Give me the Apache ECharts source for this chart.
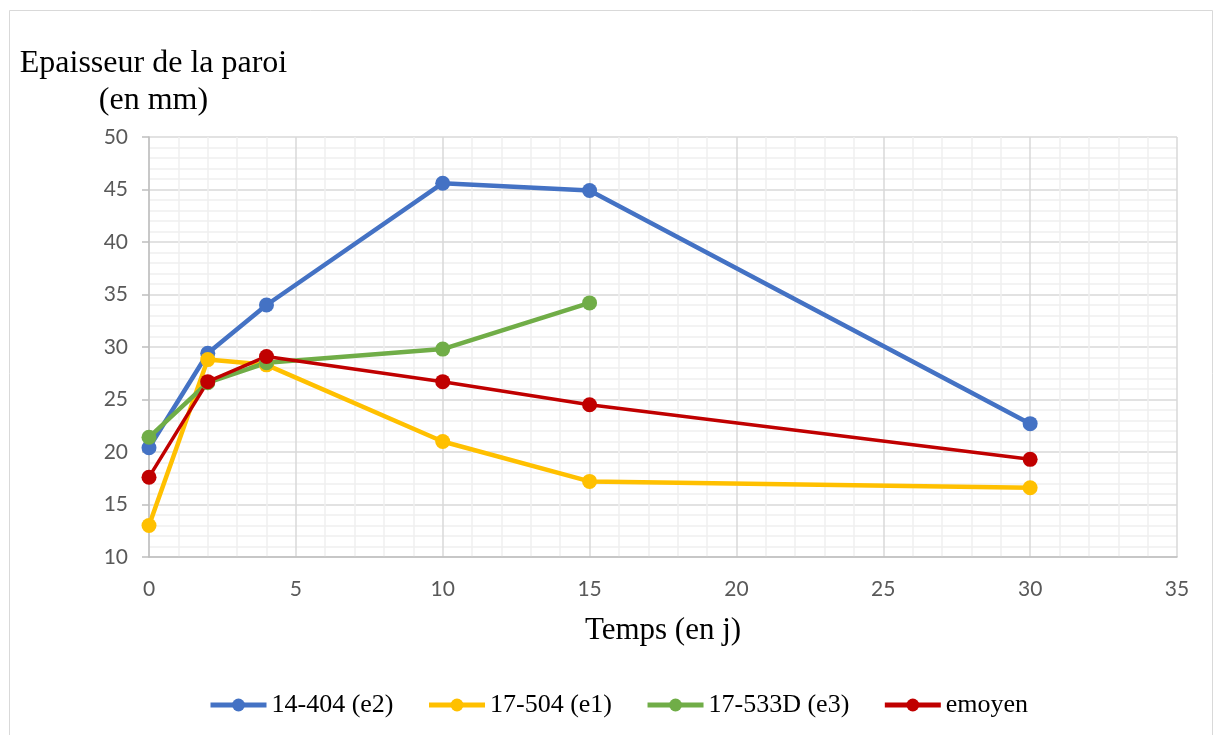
<!DOCTYPE html>
<html>
<head>
<meta charset="utf-8">
<script src="https://cdn.jsdelivr.net/npm/echarts@6/dist/echarts.min.js"></script>
<style>html,body{margin:0;padding:0;background:#fff}#c{width:1214px;height:735px}</style>
</head>
<body>
<div id="c"></div>
<script>
var days = [0, 2, 4, 10, 15, 30];
var seriesNames = ['14-404 (e2)', '17-504 (e1)', '17-533D (e3)', 'emoyen'];
var e2 = [20.4, 29.4, 34.0, 45.6, 44.9, 22.7];
var e1 = [13.0, 28.8, 28.3, 21.0, 17.2, 16.6];
var e3 = [21.4, 26.6, 28.5, 29.8, 34.2];
var emoyen = [17.6, 26.7, 29.1, 26.7, 24.5, 19.3];
var xTicks = [0, 5, 10, 15, 20, 25, 30, 35];
var yTicks = [10, 15, 20, 25, 30, 35, 40, 45, 50];

function pairs(vals) { return vals.map(function (v, i) { return [days[i], v]; }); }

var colors = ['#4472C4', '#FFC000', '#70AD47', '#C00000'];
var widths = [4.5, 4.5, 4.5, 3.5];
var allVals = [e2, e1, e3, emoyen];

var chart = echarts.init(document.getElementById('c'));
chart.setOption({
  animation: false,
  backgroundColor: '#fff',
  graphic: [{
    type: 'rect', silent: true, z: -10,
    shape: { x: 9.5, y: 10.5, width: 1203, height: 740 },
    style: { fill: 'none', stroke: '#d9d9d9', lineWidth: 1 }
  }],
  grid: { left: 149, right: 37, top: 137, bottom: 178 },
  legend: {
    left: 203, top: 687,
    itemWidth: 56, itemHeight: 16, itemGap: 33,
    lineStyle: { width: 5 },
    textStyle: { fontFamily: 'Liberation Serif', fontSize: 26, color: '#000' },
    data: seriesNames
  },
  xAxis: {
    type: 'value',
    min: xTicks[0], max: xTicks[xTicks.length - 1], interval: 5,
    name: 'Temps (en j)', nameLocation: 'middle', nameGap: 58,
    nameTextStyle: { fontFamily: 'Liberation Serif', fontSize: 31, color: '#000' },
    axisLine: { show: true, lineStyle: { color: '#bfbfbf', width: 1.5 } },
    axisTick: { show: false },
    axisLabel: { margin: 22, fontFamily: 'Lato', fontSize: 21, color: '#595959' },
    splitLine: { show: true, lineStyle: { color: '#d9d9d9', width: 1.5 } },
    minorTick: { show: false, splitNumber: 5 },
    minorSplitLine: { show: true, lineStyle: { color: '#efefef', width: 1.5 } }
  },
  yAxis: {
    type: 'value',
    min: yTicks[0], max: yTicks[yTicks.length - 1], interval: 5,
    name: 'Epaisseur de la paroi\n(en mm)', nameLocation: 'end', nameGap: 18,
    nameTextStyle: { fontFamily: 'Liberation Serif', fontSize: 32, lineHeight: 37, color: '#000', align: 'center', padding: [0, 0, 0, 9] },
    axisLine: { show: true, lineStyle: { color: '#bfbfbf', width: 1.5 } },
    axisTick: { show: true, length: 7, lineStyle: { color: '#bfbfbf', width: 1.5 } },
    axisLabel: { margin: 21, fontFamily: 'Lato', fontSize: 21, color: '#595959' },
    splitLine: { show: true, lineStyle: { color: '#d9d9d9', width: 1.5 } },
    minorTick: { show: false, splitNumber: 5 },
    minorSplitLine: { show: true, lineStyle: { color: '#efefef', width: 1.5 } }
  },
  series: seriesNames.map(function (n, i) {
    return {
      name: n, type: 'line', data: pairs(allVals[i]),
      symbol: 'circle', symbolSize: 15,
      lineStyle: { color: colors[i], width: widths[i] },
      itemStyle: { color: colors[i] },
      emphasis: { disabled: true }
    };
  })
});
</script>
</body>
</html>
